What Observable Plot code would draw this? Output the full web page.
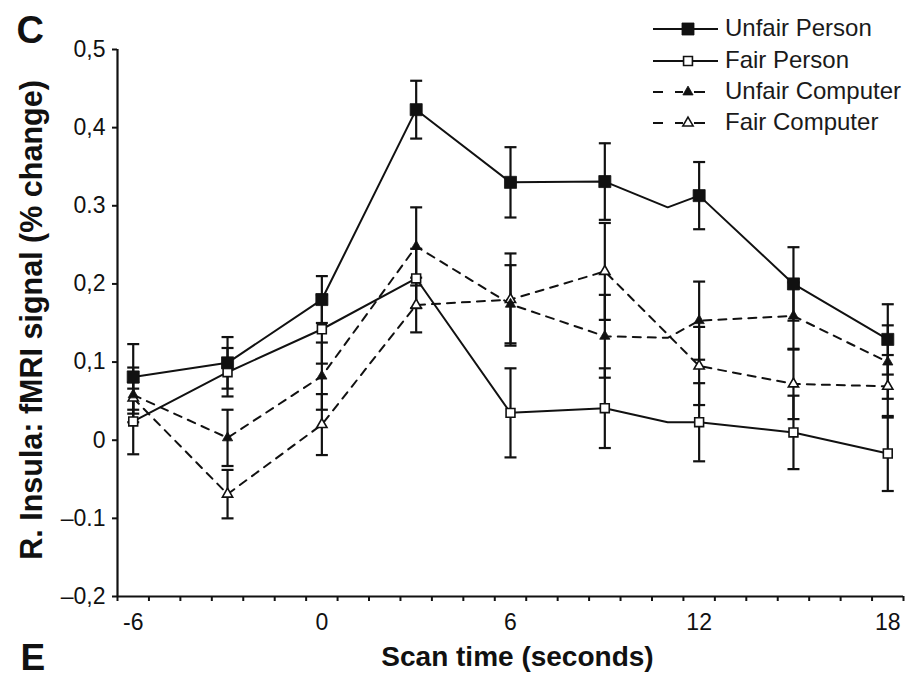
<!DOCTYPE html>
<html><head><meta charset="utf-8">
<script src="https://cdn.jsdelivr.net/npm/d3@7"></script>
<script src="https://cdn.jsdelivr.net/npm/@observablehq/plot@0.6"></script>
<style>
html,body{margin:0;padding:0;background:#fff;}
#wrap{position:relative;width:920px;height:678px;overflow:hidden;background:#fff;}
#legend{position:absolute;left:640px;top:0;}
</style></head><body><div id="wrap"></div>
<script>
// ---- data ----
const times = [-6, -3, 0, 3, 6, 9, 12, 15, 18];
const seriesNames = ["Unfair Person", "Fair Person", "Unfair Computer", "Fair Computer"];
const unfairPerson      = [0.081, 0.099, 0.180, 0.423, 0.330, 0.331, 0.313, 0.200, 0.129];
const unfairPersonErr   = [0.042, 0.033, 0.030, 0.037, 0.045, 0.049, 0.043, 0.047, 0.045];
const fairPerson        = [0.024, 0.087, 0.142, 0.207, 0.035, 0.041, 0.023, 0.010, -0.017];
const fairPersonErr     = [0.042, 0.031, 0.044, 0.038, 0.057, 0.051, 0.050, 0.047, 0.048];
const unfairComputer    = [0.058, 0.003, 0.082, 0.248, 0.174, 0.133, 0.153, 0.159, 0.100];
const unfairComputerErr = [0.035, 0.036, 0.043, 0.050, 0.050, 0.053, 0.050, 0.043, 0.047];
const fairComputer      = [0.054, -0.069, 0.020, 0.173, 0.180, 0.216, 0.095, 0.072, 0.069];
const fairComputerErr   = [0.020, 0.031, 0.039, 0.035, 0.059, 0.062, 0.050, 0.045, 0.040];
// unmarked extra line vertex visible at t = 11
const kinkTime = 11;
const unfairPersonKink = 0.298;
const fairPersonKink = 0.023;
const unfairComputerKink = 0.131;
const fairComputerKink = null;

const yTicks = [-0.2, -0.1, 0, 0.1, 0.2, 0.3, 0.4, 0.5];
const yTickLabels = ["\u20130,2", "\u20130.1", "0", "0,1", "0,2", "0.3", "0,4", "0,5"];
const xLabelTicks = [-6, 0, 6, 12, 18];
const xTickLabels = ["-6", "0", "6", "12", "18"];
const xMinorTicks = d3.range(-6.5, 18.51, 1);

// ---- styles per series ----
const spec = [
  {name: seriesNames[0], v: unfairPerson, e: unfairPersonErr, k: unfairPersonKink, dashed: false, symbol: "square", fill: "#111", r: 6.8},
  {name: seriesNames[1], v: fairPerson, e: fairPersonErr, k: fairPersonKink, dashed: false, symbol: "square", fill: "#fff", r: 5.0},
  {name: seriesNames[2], v: unfairComputer, e: unfairComputerErr, k: unfairComputerKink, dashed: true, symbol: "triangle", fill: "#111", r: 3.8},
  {name: seriesNames[3], v: fairComputer, e: fairComputerErr, k: fairComputerKink, dashed: true, symbol: "triangle", fill: "#fff", r: 3.8}
];

const points = spec.flatMap(s => times.map((t, i) => ({series: s.name, t, v: s.v[i], lo: s.v[i] - s.e[i], hi: s.v[i] + s.e[i]})));
const lineRows = spec.flatMap(s => {
  const rows = times.map((t, i) => ({series: s.name, dashed: s.dashed, t, v: s.v[i]}));
  if (s.k != null) rows.push({series: s.name, dashed: s.dashed, t: kinkTime, v: s.k});
  return rows.sort((a, b) => a.t - b.t);
});

const capSymbol = {draw(ctx, size) { const r = Math.sqrt(size / Math.PI); ctx.moveTo(-r, 0); ctx.lineTo(r, 0); }};
const ink = "#111";

const markerMarks = spec.slice().reverse().map(s => Plot.dot(points.filter(d => d.series === s.name), {
  x: "t", y: "v", symbol: s.symbol, r: s.r, fill: s.fill,
  stroke: ink, strokeWidth: s.fill === "#fff" ? 1.6 : 0.8
}));

const chart = Plot.plot({
  width: 920, height: 678,
  marginLeft: 117, marginRight: 17, marginTop: 49, marginBottom: 82,
  x: {domain: [-6.5, 18.5]},
  y: {domain: [-0.2, 0.5]},
  style: {fontFamily: "'Liberation Sans', Arial, sans-serif", color: ink, background: "#fff", overflow: "visible"},
  marks: [
    Plot.axisY({ticks: yTicks, tickSize: 5, tickPadding: 7, fontSize: 23, strokeWidth: 2, label: null,
      tickFormat: d => yTickLabels[yTicks.findIndex(t => Math.abs(t - d) < 1e-9)]}),
    Plot.axisX({ticks: xMinorTicks, tickSize: 5, strokeWidth: 2, tickFormat: () => "", label: null}),
    Plot.axisX({ticks: xLabelTicks, tickSize: 0, tickPadding: 17, fontSize: 23, label: null,
      tickFormat: d => xTickLabels[xLabelTicks.indexOf(d)]}),
    Plot.ruleX([-6.5], {stroke: ink, strokeWidth: 2.2}),
    Plot.ruleY([-0.2], {stroke: ink, strokeWidth: 2.2}),
    // error bars
    Plot.ruleX(points, {x: "t", y1: "lo", y2: "hi", stroke: ink, strokeWidth: 2.2}),
    Plot.dot(points, {x: "t", y: "lo", symbol: capSymbol, r: 6, stroke: ink, strokeWidth: 2.2, fill: "none"}),
    Plot.dot(points, {x: "t", y: "hi", symbol: capSymbol, r: 6, stroke: ink, strokeWidth: 2.2, fill: "none"}),
    // lines
    Plot.line(lineRows.filter(d => d.dashed), {x: "t", y: "v", z: "series", stroke: ink, strokeWidth: 2, strokeDasharray: "8,7"}),
    Plot.line(lineRows.filter(d => !d.dashed), {x: "t", y: "v", z: "series", stroke: ink, strokeWidth: 2}),
    ...markerMarks,
    // labels
    Plot.text(["Scan time (seconds)"], {frameAnchor: "bottom", textAnchor: "middle", dx: 7, dy: 61, fontSize: 28, fontWeight: "bold", lineAnchor: "middle", fill: ink}),
    Plot.text(["R. Insula: fMRI signal (% change)"], {frameAnchor: "left", textAnchor: "middle", rotate: -90, dx: -85, dy: -3, fontSize: 30.5, fontWeight: "bold", lineAnchor: "middle", fill: ink}),
    Plot.text(["C"], {frameAnchor: "top-left", textAnchor: "start", lineAnchor: "bottom", dx: -101, dy: -7, fontSize: 38, fontWeight: "bold", fill: ink}),
    Plot.text(["E"], {frameAnchor: "bottom-left", textAnchor: "start", lineAnchor: "bottom", dx: -97, dy: 73, fontSize: 37, fontWeight: "bold", fill: ink})
  ]
});
document.getElementById("wrap").appendChild(chart);

// ---- legend ----
const leg = d3.select("#wrap").append("svg").attr("id", "legend").attr("width", 280).attr("height", 140)
  .style("font-family", "'Liberation Sans', Arial, sans-serif");
const rowY = [29, 61, 92, 123];
spec.forEach((s, i) => {
  const g = leg.append("g").attr("transform", `translate(0,${rowY[i]})`);
  const segs = s.dashed ? [[13, 23], [35, 43], [54, 65]] : [[13, 78]];
  segs.forEach(([a, b]) => g.append("line").attr("x1", a).attr("x2", b).attr("y1", 0).attr("y2", 0)
    .attr("stroke", ink).attr("stroke-width", 2));
  const sym = s.symbol === "square" ? d3.symbolSquare : d3.symbolTriangle;
  g.append("path").attr("transform", "translate(48,0)")
    .attr("d", d3.symbol(sym, Math.PI * s.r * s.r)())
    .attr("fill", s.fill).attr("stroke", ink).attr("stroke-width", s.fill === "#fff" ? 1.6 : 0.8);
  g.append("text").attr("x", 85).attr("y", 6.5).attr("font-size", 24).attr("fill", "#1a1a1a").text(s.name);
});
</script></body></html>
